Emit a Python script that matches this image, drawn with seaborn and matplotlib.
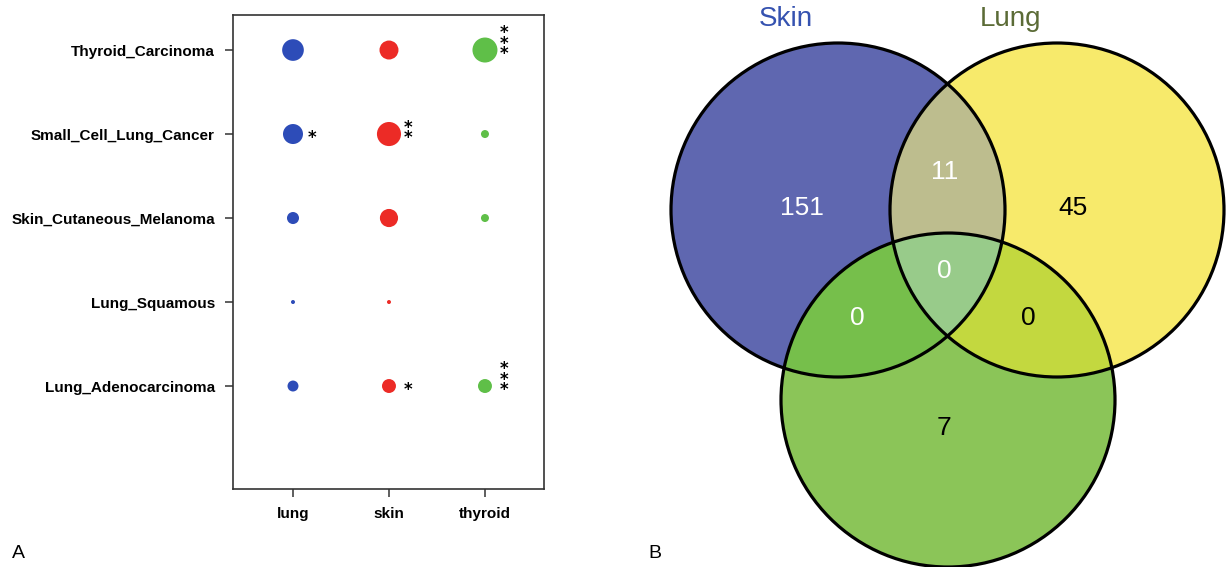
"""
Disease/tissue dot plot (A) and three-set Venn diagram (B)
"""

import numpy as np
import pandas as pd
import matplotlib.pyplot as plt
import seaborn as sns
from matplotlib.colors import to_rgb
from matplotlib.patches import Circle
from matplotlib.transforms import offset_copy

# ---- data: panel A -------------------------------------------------------
diseases = ["Thyroid_Carcinoma", "Small_Cell_Lung_Cancer",
            "Skin_Cutaneous_Melanoma", "Lung_Squamous", "Lung_Adenocarcinoma"]
tissues = ["lung", "skin", "thyroid"]

# dot size score per tissue (same order as diseases)
lung_scores = [4.7, 4.0, 1.45, 0.16, 1.2]
skin_scores = [3.6, 5.8, 3.3, 0.16, 1.95]
thyroid_scores = [6.25, 0.64, 0.64, 0.0, 1.95]

# significance marks: (disease, tissue, stars)
sig_disease = ["Thyroid_Carcinoma", "Small_Cell_Lung_Cancer", "Small_Cell_Lung_Cancer",
               "Lung_Adenocarcinoma", "Lung_Adenocarcinoma"]
sig_tissue = ["thyroid", "lung", "skin", "skin", "thyroid"]
sig_stars = ["***", "*", "**", "*", "***"]

tissue_colors = {"lung": "#2d4cb8", "skin": "#ec2b26", "thyroid": "#5fbf48"}

# ---- data: panel B -------------------------------------------------------
set_names = ["Skin", "Lung"]
set_label_colors = ["#3552b0", "#5b6b36"]
region_names = ["skin_only", "skin_lung", "lung_only", "all",
                "skin_thyroid", "lung_thyroid", "thyroid_only"]
region_counts = [151, 11, 45, 0, 0, 0, 7]

# ---- style ----------------------------------------------------------------
sns.set_theme(style="white")
plt.rcParams['font.family'] = ['Liberation Sans', 'DejaVu Sans']
plt.rcParams['text.color'] = 'black'
plt.rcParams['xtick.color'] = 'black'
plt.rcParams['ytick.color'] = 'black'

fig = plt.figure(figsize=(12.29, 5.67), dpi=100)
W, H = 1229, 567

# ===================== panel A: dot plot ==================================
ax = fig.add_axes([233 / W, (H - 489) / H, (544 - 233) / W, (489 - 15) / H])

rows = []
for t, vals in zip(tissues, [lung_scores, skin_scores, thyroid_scores]):
    for d, v in zip(diseases, vals):
        rows.append({"disease": d, "tissue": t, "score": v})
df = pd.DataFrame(rows)
df = df[df["score"] > 0].copy()
df["xpos"] = df["tissue"].map({t: i for i, t in enumerate(tissues)})
df["ypos"] = df["disease"].map({d: i for i, d in enumerate(diseases)})

smax = max(lung_scores + skin_scores + thyroid_scores)
sns.scatterplot(
    data=df, x="xpos", y="ypos", hue="tissue", palette=tissue_colors,
    size="score", sizes=(0, smax * 51.84), size_norm=(0, smax),
    linewidth=0, legend=False, ax=ax, zorder=3
)

# stars, stacked upward from the dot centre (one text per stack)
star_fs = 12
glyph_mid = 0.58 * star_fs * 100 / 72   # asterisk centre above baseline, px
star_tr = offset_copy(ax.transData, fig=fig, x=0, y=1 - glyph_mid, units='dots')
for d, t, s in zip(sig_disease, sig_tissue, sig_stars):
    xi = tissues.index(t) + 0.2
    yi = diseases.index(d)
    ax.text(xi, yi, "\n".join(s), ha='center', va='baseline',
            multialignment='center', linespacing=0.44,
            fontsize=star_fs, fontweight='bold', color='black',
            family='DejaVu Sans', transform=star_tr)

ax.set_xlim(-0.625, 2.615)
ax.set_ylim(5.226, -0.417)
ax.set_xticks(range(len(tissues)))
ax.set_xticklabels(tissues, fontsize=11, fontweight='bold')
ax.set_yticks(range(len(diseases)))
ax.set_yticklabels(diseases, fontsize=11, fontweight='bold')
ax.set_xlabel("")
ax.set_ylabel("")
ax.tick_params(axis='both', direction='out', length=6, width=1.1,
               color='#333333', labelcolor='black', pad=7, left=True, bottom=True)
for sp in ax.spines.values():
    sp.set_color('#333333')
    sp.set_linewidth(1.2)
ax.set_facecolor('white')

# ===================== panel B: Venn ======================================
vax = fig.add_axes([620 / W, 0, (W - 620) / W, 1])

r = 167
c_skin = (838, 210)
c_lung = (1057, 210)
c_thy = (948, 400)

xs = np.linspace(620, W, 2436)
ys = np.linspace(0, H, 2268)
X, Y = np.meshgrid(xs, ys)
in_skin = (X - c_skin[0]) ** 2 + (Y - c_skin[1]) ** 2 <= r ** 2
in_lung = (X - c_lung[0]) ** 2 + (Y - c_lung[1]) ** 2 <= r ** 2
in_thy = (X - c_thy[0]) ** 2 + (Y - c_thy[1]) ** 2 <= r ** 2
code = in_skin.astype(int) + 2 * in_lung.astype(int) + 4 * in_thy.astype(int)

# index = skin*1 + lung*2 + thyroid*4
fill_colors = ["#ffffff", "#5f67b0", "#f7ea6b", "#bdbd8e",
               "#8bc558", "#76bf4b", "#c3d83f", "#98cb8a"]
rgb = np.array([to_rgb(c) for c in fill_colors])[code]
vax.imshow(rgb, extent=(620, W, H, 0), interpolation='nearest')

for c in [c_skin, c_lung, c_thy]:
    vax.add_patch(Circle(c, r, fill=False, ec='black', lw=2.3, zorder=3))

count_pos = {
    "skin_only": (802, 208), "skin_lung": (945, 172), "lung_only": (1073, 208),
    "all": (944, 271), "skin_thyroid": (857, 318), "lung_thyroid": (1028, 318),
    "thyroid_only": (944, 428),
}
count_color = {
    "skin_only": "white", "skin_lung": "white", "lung_only": "black",
    "all": "white", "skin_thyroid": "white", "lung_thyroid": "black",
    "thyroid_only": "black",
}
for name, n in zip(region_names, region_counts):
    px, py = count_pos[name]
    vax.text(px, py, str(n), ha='center', va='center', fontsize=19,
             color=count_color[name], zorder=4)

for name, col, px in zip(set_names, set_label_colors, [786, 1010]):
    vax.text(px, 19, name, ha='center', va='center', fontsize=20, color=col)

vax.set_xlim(620, W)
vax.set_ylim(H, 0)
vax.axis('off')

# panel letters
fig.text(18 / W, 1 - 553 / H, "A", fontsize=14, ha='center', va='center')
fig.text(655 / W, 1 - 553 / H, "B", fontsize=14, ha='center', va='center')

fig.savefig("out.png", dpi=100, facecolor='white')
